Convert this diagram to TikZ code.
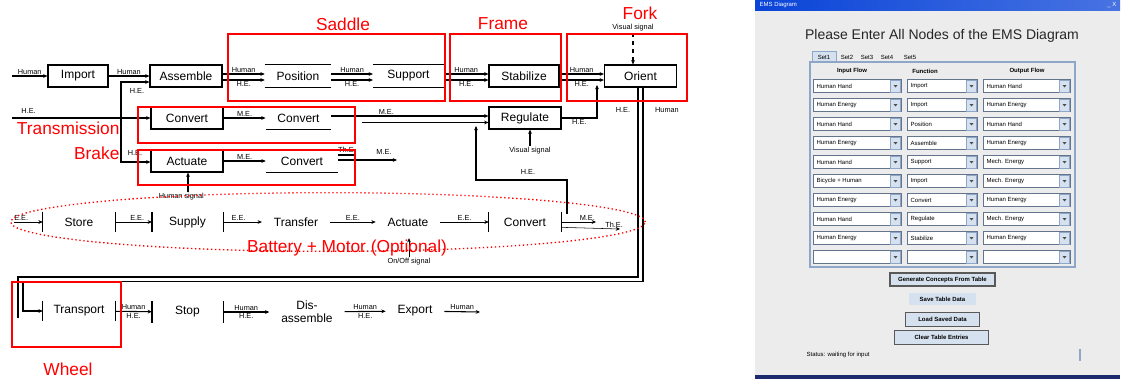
\documentclass[tikz,border=0pt]{standalone}
\usepackage{fontspec}
\setmainfont{Liberation Sans}
\usetikzlibrary{arrows.meta}
\definecolor{winbg}{HTML}{ECECEC}
\definecolor{titleblue}{HTML}{0A44D8}
\definecolor{navy}{HTML}{1C2A6E}
\definecolor{panelline}{HTML}{8EA6C8}
\definecolor{btnfill}{HTML}{D5E1EF}

\begin{document}
\begin{tikzpicture}[
  x=0.75pt, y=-0.75pt,
  >={Stealth[length=3.2pt,width=2.8pt]},
  fbox/.style={draw, line width=0.9pt, minimum height=16.5pt, inner sep=1pt,
               font=\fontsize{9}{10}\selectfont},
  bar/.style={draw, line width=0.9pt, -},
  hbars/.style={minimum height=16.5pt, inner sep=1pt, font=\fontsize{9}{10}\selectfont,
               append after command={(\tikzlastnode.north west) edge[bar] (\tikzlastnode.north east)
                                     (\tikzlastnode.south west) edge[bar] (\tikzlastnode.south east)}},
  vbars/.style={minimum height=15pt, inner sep=1pt, font=\fontsize{9}{10}\selectfont,
               append after command={(\tikzlastnode.north west) edge[bar] (\tikzlastnode.south west)
                                     (\tikzlastnode.north east) edge[bar] (\tikzlastnode.south east)}},
  plain/.style={inner sep=1pt, outer sep=8pt, font=\fontsize{9}{10}\selectfont},
  lbl/.style={font=\fontsize{5.5}{6}\selectfont, inner sep=1pt},
  flow/.style={->, line width=0.8pt},
  tflow/.style={->, line width=0.4pt},
  frame/.style={red, line width=1pt},
  tag/.style={red, font=\fontsize{13}{14}\selectfont, inner sep=1pt},
  guitxt/.style={font=\fontsize{4.5}{5}\selectfont, inner sep=1pt},
  combo/.style={fill=white, draw=panelline!70!black, line width=0.7pt},
  cbtn/.style={fill=btnfill, draw=panelline},
  btn/.style={fill=btnfill, guitxt, font=\fontsize{4.5}{5}\selectfont\bfseries},
]
  \useasboundingbox (0,0) rectangle (1122,379);

  % Top row: human flow through the saddle, frame and fork
  \node[fbox, minimum width=45pt] (import) at (78,76) {Import};
  \node[fbox, minimum width=54pt] (assemble) at (186,76) {Assemble};
  \node[hbars, minimum width=49.5pt] (position) at (298,76) {Position};
  \node[hbars, minimum width=53pt] (support) at (408.5,76) {Support};
  \node[fbox, minimum width=52.5pt] (stabilize) at (524,76) {Stabilize};
  \node[fbox, minimum width=54pt] (orient) at (640.5,76) {Orient};

  % Second row: transmission
  \node[fbox, minimum width=54pt] (convA) at (187,118) {Convert};
  \node[hbars, minimum width=49pt] (convB) at (298.5,118) {Convert};
  \node[fbox, minimum width=54pt] (regulate) at (525,118) {Regulate};

  % Third row: brake
  \node[fbox, minimum width=54pt] (actuate) at (187,161) {Actuate};
  \node[hbars, minimum width=54pt] (convC) at (302,161) {Convert};

  % Battery row
  \node[vbars, minimum width=54pt] (store) at (79,222) {Store};
  \node[vbars, minimum width=53pt] (supply) at (187.5,222) {Supply};
  \node[plain] (transfer) at (296,222) {Transfer};
  \node[plain] (actuateB) at (408,222) {Actuate};
  \node[vbars, minimum width=54pt] (convD) at (525,222) {Convert};

  % Bottom row: wheel and end of life
  \node[vbars, minimum width=54pt] (transport) at (79,311) {Transport};
  \node[vbars, minimum width=53pt, minimum height=16pt] (stop) at (187.5,312) {Stop};
  \node[plain, align=center] (disasm) at (307,312) {Dis-\\assemble};
  \node[plain] (export) at (415,311) {Export};

  % Human flow along the top row
  \coordinate (hin) at (12,76);
  \draw[flow] (hin) -- (import) node[lbl, midway, above] {Human};
  \draw[flow] (import) -- (assemble) node[lbl, midway, above] {Human};
  \foreach \a/\b in {assemble/position, position/support, support/stabilize, stabilize/orient} {
    \draw[flow] ([yshift=1.5pt]\a.east) -- ([yshift=1.5pt]\b.west) node[lbl, midway, above] {Human};
    \draw[flow] ([yshift=-3pt]\a.east) -- ([yshift=-3pt]\b.west) node[lbl, midway, below] {H.E.};
  }

  % H.E. input and its branches
  \coordinate (hein) at (12,118);
  \coordinate (hjA) at (121,82);
  \coordinate (hjB) at (121,162);
  \draw[flow] (hein) -- (convA) node[lbl, pos=0.12, above=2pt] {H.E.};
  \draw[flow, <->] (hjA -| assemble.west) -- (hjA) -- (hjB) -- (hjB -| actuate.west);
  \node[lbl] (heA) at (137,91) {H.E.};
  \node[lbl] (heB) at (135,153) {H.E.};

  % Transmission
  \draw[flow] (convA) -- (convB) node[lbl, midway, above] {M.E.};
  \draw[flow] ([yshift=1.5pt]convB.east) -- ([yshift=1.5pt]regulate.west) node[lbl, pos=0.35, above] {M.E.};
  \coordinate (mjoin) at (362,122.5);
  \draw[flow] (mjoin) -- (mjoin -| regulate.west);
  \coordinate (rjoin) at (597,85);
  \draw[flow] (regulate.east) -| (rjoin) node[lbl, pos=0.25, below] {H.E.};

  % Signals
  \coordinate (vsO) at (633,33);
  \draw[flow, dashed] (vsO) -- (vsO |- orient.north);
  \node[lbl, above] (vsOl) at (vsO) {Visual signal};
  \coordinate (vsR) at (530,146);
  \draw[flow] (vsR) -- (vsR |- regulate.south);
  \node[lbl, below] (vsRl) at (vsR) {Visual signal};
  \coordinate (hsig) at (188,192);
  \draw[flow] (hsig) -- (hsig |- actuate.south);
  \node[lbl, below, xshift=-5pt] (hsigl) at (hsig) {Human signal};

  % Brake
  \draw[flow] (actuate) -- (convC) node[lbl, midway, above] {M.E.};
  \coordinate (cC1) at (355,155);
  \coordinate (cC2) at (397,160);
  \draw[line width=0.8pt] (cC1 -| convC.east) -- (cC1);
  \draw[flow] (cC2 -| convC.east) -- (cC2);
  \node[lbl] (thC) at (347,150) {Th.E.};
  \node[lbl] (meC) at (384,152) {M.E.};

  % Battery and motor
  \coordinate (ein) at (14,222);
  \draw[tflow] (ein) -- (store) node[lbl, pos=0.25, above] {E.E.};
  \draw[tflow] (store) -- (supply) node[lbl, pos=0.6, above] {E.E.};
  \draw[tflow] (supply) -- (transfer) node[lbl, pos=0.4, above] {E.E.};
  \draw[tflow] (transfer) -- (actuateB) node[lbl, midway, above] {E.E.};
  \draw[tflow] (actuateB) -- (convD) node[lbl, midway, above] {E.E.};
  \coordinate (eo1) at (596,222);
  \coordinate (eo2) at (620,229);
  \draw[tflow] (convD) -- (eo1) node[lbl, pos=0.75, above] {M.E.};
  \draw[tflow] ([yshift=-4pt]convD.east) -- (eo2) node[lbl, pos=0.9, above] {Th.E.};
  \coordinate (osig) at (409,257);
  \draw[tflow] (osig) -- (osig |- actuateB.south);
  \node[lbl, below] (osigl) at (osig) {On/Off signal};
  \coordinate (bA) at (567,214);
  \coordinate (bB) at (476,180);
  \coordinate (bC) at (476,126);
  \draw[flow] (bA) |- (bB) -- (bC);
  \node[lbl] (heR) at (528,172) {H.E.};

  % Return loop from the fork to the wheel
  \coordinate (lpR1) at (638,277);
  \coordinate (lpL1) at (18,277);
  \coordinate (lpE1) at (18,318);
  \draw[line width=0.9pt] (lpR1 |- orient.south) -- (lpR1) -- (lpL1) -- (lpE1);
  \coordinate (lpR2) at (643,281.5);
  \coordinate (lpL2) at (23,281.5);
  \coordinate (lpE2) at (23,311);
  \draw[flow] (lpR2 |- orient.south) -- (lpR2) -- (lpL2) -- (lpE2) -- (transport);
  \node[lbl] (heO) at (623,110) {H.E.};
  \node[lbl] (huO) at (667,110) {Human};

  % Bottom row flows
  \draw[flow] (transport) -- (stop) node[lbl, midway, above] {Human} node[lbl, midway, below] {H.E.};
  \draw[flow] (stop) -- (disasm) node[lbl, midway, above] {Human} node[lbl, midway, below] {H.E.};
  \draw[flow] (disasm) -- (export) node[lbl, midway, above] {Human} node[lbl, midway, below] {H.E.};
  \coordinate (eout) at (480,312);
  \draw[flow] (export) -- (eout) node[lbl, midway, above] {Human};

  % Component frames
  \draw[frame] (228,34) rectangle (445,101);
  \node[tag] (tsad) at (343,24) {Saddle};
  \draw[frame] (450,34) rectangle (561,101);
  \node[tag] (tfra) at (503,24) {Frame};
  \draw[frame] (567,34) rectangle (687,101);
  \node[tag] (tfor) at (640,13) {Fork};
  \draw[frame] (138,107) rectangle (355,143);
  \node[tag, anchor=east] (ttra) at (121,128) {Transmission};
  \draw[frame] (138,150) rectangle (355,185);
  \node[tag, anchor=east] (tbra) at (121,153) {Brake};
  \draw[frame] (12,282) rectangle (121,347);
  \node[tag] (twhe) at (68,369) {Wheel};
  \draw[red, dotted, line width=1pt] (328,222) ellipse [x radius=238pt, y radius=22pt];
  \node[tag] (tbat) at (347,248) {Battery + Motor (Optional)};

  % Input window
  \fill[winbg] (755,0) rectangle (1120,379);
  \shade[left color=titleblue, right color=titleblue!75!white] (755,0) rectangle (1120,10);
  \node[guitxt, white, anchor=west] (wtitle) at (758,5) {EMS Diagram};
  \node[guitxt, white, anchor=east] (wclose) at (1118,5) {\_ X};
  \fill[navy] (755,375) rectangle (1120,379);
  \node[font=\fontsize{10.5}{12}\selectfont, text=black!85] (gtitle) at (942,36)
    {Please Enter All Nodes of the EMS Diagram};

  % Tabs
  \filldraw[fill=btnfill, draw=panelline] (812,51) rectangle (836,62);
  \foreach \t/\xx in {Set1/824, Set2/847, Set3/867, Set4/887, Set5/910}
    \node[guitxt] (tab\t) at (\xx,57) {\t};

  % Table of combo boxes
  \draw[panelline, line width=1pt] (810,62) rectangle (1075,267);
  \node[guitxt, font=\fontsize{4.5}{5}\selectfont\bfseries] (hdIn) at (852,71) {Input Flow};
  \node[guitxt, font=\fontsize{4.5}{5}\selectfont\bfseries] (hdFn) at (925,71) {Function};
  \node[guitxt, font=\fontsize{4.5}{5}\selectfont\bfseries] (hdOut) at (1027,71) {Output Flow};
  \foreach \r/\fa/\fb/\fc in {0/Human Hand/Import/Human Hand, 1/Human Energy/Import/Human Energy,
      2/Human Hand/Position/Human Hand, 3/Human Energy/Assemble/Human Energy,
      4/Human Hand/Support/Mech. Energy, 5/Bicycle + Human/Import/Mech. Energy,
      6/Human Energy/Convert/Human Energy, 7/Human Hand/Regulate/Mech. Energy,
      8/Human Energy/Stabilize/Human Energy, 9/{}/{}/{}} {
    \foreach \xa/\xb/\t/\c in {813/901/\fa/a, 907/977/\fb/b, 983/1070/\fc/c} {
      \draw[combo] (\xa,86+19*\r-6.5) rectangle (\xb,86+19*\r+6.5);
      \filldraw[cbtn] (\xb-11,86+19*\r-6) rectangle (\xb-0.5,86+19*\r+6);
      \fill[black!70] (\xb-7.5,86+19*\r-1) -- (\xb-3.5,86+19*\r-1) -- (\xb-5.5,86+19*\r+1.5) -- cycle;
      \node[guitxt, anchor=west] (t\c\r) at (\xa+2,86+19*\r) {\t};
    }
  }

  % Buttons and status line
  \node[btn, draw=gray!70!black, line width=1pt, minimum width=78.75pt, minimum height=9.75pt] (bgen)
    at (942.5,279.5) {Generate Concepts From Table};
  \node[btn, minimum width=50pt, minimum height=9pt] (bsave) at (942.5,299) {Save Table Data};
  \node[btn, draw=gray!70!black, line width=0.7pt, minimum width=56pt, minimum height=10.5pt] (bload)
    at (942.5,319) {Load Saved Data};
  \node[btn, draw=gray!70!black, line width=0.7pt, minimum width=70pt, minimum height=10.5pt] (bclear)
    at (941.5,337) {Clear Table Entries};
  \node[guitxt, anchor=west] (status) at (805,355) {Status: waiting for input};
  \draw[panelline, line width=0.8pt] (1080,349) -- (1080,361);
\end{tikzpicture}
\end{document}
